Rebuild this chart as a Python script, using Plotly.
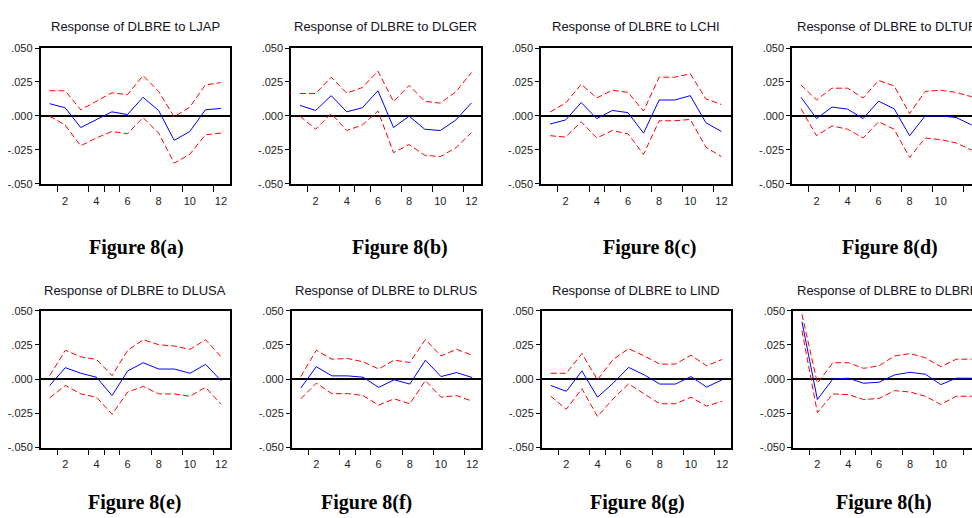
import plotly.graph_objects as go

periods = list(range(1, 13))

titles = ["Response of DLBRE to LJAP", "Response of DLBRE to DLGER",
          "Response of DLBRE to LCHI", "Response of DLBRE to DLTUR",
          "Response of DLBRE to DLUSA", "Response of DLBRE to DLRUS",
          "Response of DLBRE to LIND", "Response of DLBRE to DLBRE"]
captions = ["Figure 8(a)", "Figure 8(b)", "Figure 8(c)", "Figure 8(d)",
            "Figure 8(e)", "Figure 8(f)", "Figure 8(g)", "Figure 8(h)"]

ytick_vals = [-0.05, -0.025, 0.0, 0.025, 0.05]
ytick_text = ["-.050", "-.025", ".000", ".025", ".050"]
xtick_vals = [2, 4, 6, 8, 10, 12]
xminor_vals = [1.5, 3.5, 4.5, 5.5, 7.5, 9.5, 11.5]

# (a) LJAP
resp_a = [0.009, 0.006, -0.0086, -0.003, 0.003, 0.001, 0.0137, 0.004, -0.018, -0.0115, 0.0045, 0.0055]
upper_a = [0.0185, 0.0185, 0.0045, 0.011, 0.017, 0.0156, 0.0297, 0.018, -0.0007, 0.0065, 0.0228, 0.0245]
lower_a = [-0.0002, -0.0067, -0.022, -0.0163, -0.0115, -0.0132, -0.0012, -0.0127, -0.0348, -0.0283, -0.0139, -0.0127]
# (b) DLGER
resp_b = [0.0077, 0.004, 0.0149, 0.003, 0.006, 0.0185, -0.0086, -0.0002, -0.0098, -0.0108, -0.003, 0.0096]
upper_b = [0.0165, 0.0165, 0.0285, 0.0168, 0.0209, 0.033, 0.0105, 0.0225, 0.0108, 0.0094, 0.0177, 0.032]
lower_b = [-0.0002, -0.0098, 0.0017, -0.0108, -0.0067, 0.0036, -0.0271, -0.0211, -0.029, -0.030, -0.0235, -0.0122]
# (c) LCHI
resp_c = [-0.006, -0.003, 0.0098, -0.002, 0.004, 0.0024, -0.0127, 0.0117, 0.0117, 0.0149, -0.005, -0.0115]
upper_c = [0.0029, 0.0094, 0.0233, 0.0132, 0.0189, 0.0173, 0.0036, 0.0285, 0.0285, 0.031, 0.0125, 0.0084]
lower_c = [-0.0146, -0.0156, -0.0043, -0.0163, -0.0108, -0.0132, -0.0283, -0.0036, -0.0036, -0.0026, -0.023, -0.030]
# (d) DLTUR
resp_d = [0.0137, -0.002, 0.0065, 0.005, -0.002, 0.0108, 0.0053, -0.0146, 0.0, 0.0, -0.0012, -0.0067]
upper_d = [0.0228, 0.0118, 0.0204, 0.0204, 0.0132, 0.0261, 0.0221, 0.0017, 0.018, 0.0189, 0.0173, 0.0141]
lower_d = [0.0053, -0.0146, -0.0074, -0.0098, -0.0163, -0.0043, -0.0098, -0.0307, -0.0163, -0.0175, -0.0199, -0.0252]
# (e) DLUSA
resp_e = [-0.0046, 0.0084, 0.0043, 0.0014, -0.012, 0.006, 0.012, 0.0074, 0.0074, 0.0043, 0.0108, -0.0012]
upper_e = [0.0026, 0.0211, 0.0163, 0.0144, 0.0026, 0.0211, 0.0288, 0.0252, 0.0242, 0.0218, 0.0288, 0.0163]
lower_e = [-0.0137, -0.0046, -0.0108, -0.0132, -0.0257, -0.0094, -0.0053, -0.0108, -0.0108, -0.0125, -0.006, -0.0185]
# (f) DLRUS
resp_f = [-0.0065, 0.0091, 0.0024, 0.0024, 0.0014, -0.006, -0.0005, -0.0036, 0.0139, 0.0019, 0.0048, 0.0012]
upper_f = [0.0019, 0.0211, 0.0146, 0.0151, 0.0127, 0.0074, 0.0139, 0.0122, 0.029, 0.017, 0.0218, 0.0175]
lower_f = [-0.0144, -0.0029, -0.0106, -0.0106, -0.012, -0.019, -0.0144, -0.018, -0.001, -0.0132, -0.012, -0.0161]
# (g) LIND
resp_g = [-0.0046, -0.0089, 0.006, -0.0132, -0.003, 0.0086, 0.0031, -0.0036, -0.0036, 0.0019, -0.0058, -0.0005]
upper_g = [0.0043, 0.0043, 0.0187, -0.0005, 0.0144, 0.0223, 0.017, 0.011, 0.011, 0.0175, 0.0098, 0.0144]
lower_g = [-0.0125, -0.022, -0.007, -0.0273, -0.0144, -0.0034, -0.0108, -0.018, -0.018, -0.0132, -0.0197, -0.0161]
# (h) DLBRE
resp_h = [0.042, -0.0149, 0.0, 0.0007, -0.003, -0.0022, 0.0031, 0.005, 0.0036, -0.004, 0.0007, 0.0007]
upper_h = [0.0475, -0.003, 0.012, 0.012, 0.0079, 0.0098, 0.017, 0.0187, 0.0156, 0.0091, 0.0146, 0.0146]
lower_h = [0.0355, -0.0245, -0.0108, -0.0113, -0.0149, -0.0141, -0.0084, -0.0094, -0.0125, -0.0185, -0.0125, -0.0125]

responses = [resp_a, resp_b, resp_c, resp_d, resp_e, resp_f, resp_g, resp_h]
uppers = [upper_a, upper_b, upper_c, upper_d, upper_e, upper_f, upper_g, upper_h]
lowers = [lower_a, lower_b, lower_c, lower_d, lower_e, lower_f, lower_g, lower_h]

# ---- layout geometry (pixels) ----
W, H = 972, 518
panel_left = [40.5, 291, 541, 792, 40.7, 291.7, 541.7, 793]
panel_w = 189.5
row_top = [43, 312]
row_bot = [182, 452]
title_y = [21, 291]
caption_y = [247, 508]
caption_x = [136, 400, 650, 890, 135, 366, 637, 884]
x_lo, x_hi = 0.42, 12.58
units_per_px = (x_hi - x_lo) / panel_w

fig = go.Figure()
layout = dict(width=W, height=H, margin=dict(l=0, r=0, t=0, b=0),
              paper_bgcolor="white", plot_bgcolor="white", showlegend=False)
annotations = []

for i in range(8):
    row = i // 4
    n = "" if i == 0 else str(i + 1)
    left = panel_left[i]
    right = left + panel_w
    xr = [x_lo, x_hi]
    right_clip = min(right, W)
    if right > W:
        xr = [x_lo, max(12.02, x_lo + (W - left) * units_per_px)]
    xdom = [left / W, right_clip / W]
    ydom = [1 - row_bot[row] / H, 1 - row_top[row] / H]
    full_frame = right <= W

    layout["xaxis" + n] = dict(
        domain=xdom, range=xr, anchor="y" + n, showgrid=False, zeroline=False,
        showline=True, linecolor="black", linewidth=1.5, mirror=True,
        tickmode="array", tickvals=xtick_vals, ticks="outside", ticklen=6,
        tickcolor="rgba(0,0,0,0)",
        tickfont=dict(family="Liberation Sans, Arial", size=11, color="#222"),
        minor=dict(tickmode="array", tickvals=xminor_vals, ticks="outside",
                   ticklen=6, tickcolor="black", tickwidth=1, showgrid=False),
        fixedrange=True)
    layout["yaxis" + n] = dict(
        domain=ydom, range=[-0.05, 0.05], anchor="x" + n, showgrid=False,
        zeroline=True, zerolinecolor="black", zerolinewidth=1.5,
        showline=True, linecolor="black", linewidth=1.5, mirror=full_frame,
        tickmode="array", tickvals=ytick_vals, ticktext=ytick_text,
        ticks="outside", ticklen=4, tickcolor="black",
        tickfont=dict(family="Liberation Sans, Arial", size=11, color="#222"),
        fixedrange=True)

    xa, ya = "x" + n, "y" + n
    fig.add_trace(go.Scatter(x=periods, y=uppers[i], mode="lines", xaxis=xa, yaxis=ya,
                             line=dict(color="red", width=1, dash="6px,3px")))
    fig.add_trace(go.Scatter(x=periods, y=lowers[i], mode="lines", xaxis=xa, yaxis=ya,
                             line=dict(color="red", width=1, dash="6px,3px")))
    fig.add_trace(go.Scatter(x=periods, y=responses[i], mode="lines", xaxis=xa, yaxis=ya,
                             line=dict(color="blue", width=1)))

    cx = (left + panel_w / 2) / W
    annotations.append(dict(text=titles[i], xref="paper", yref="paper", x=cx,
                            y=1 - title_y[row] / H, xanchor="center", yanchor="middle",
                            showarrow=False,
                            font=dict(family="Liberation Sans, Arial", size=13, color="#111122")))
    annotations.append(dict(text="<b>" + captions[i] + "</b>", xref="paper", yref="paper",
                            x=caption_x[i] / W, y=1 - caption_y[row] / H,
                            xanchor="center", yanchor="middle", showarrow=False,
                            font=dict(family="Liberation Serif, Times New Roman", size=20,
                                      color="black")))

layout["annotations"] = annotations
fig.update_layout(**layout)
fig.write_html("out.html")
